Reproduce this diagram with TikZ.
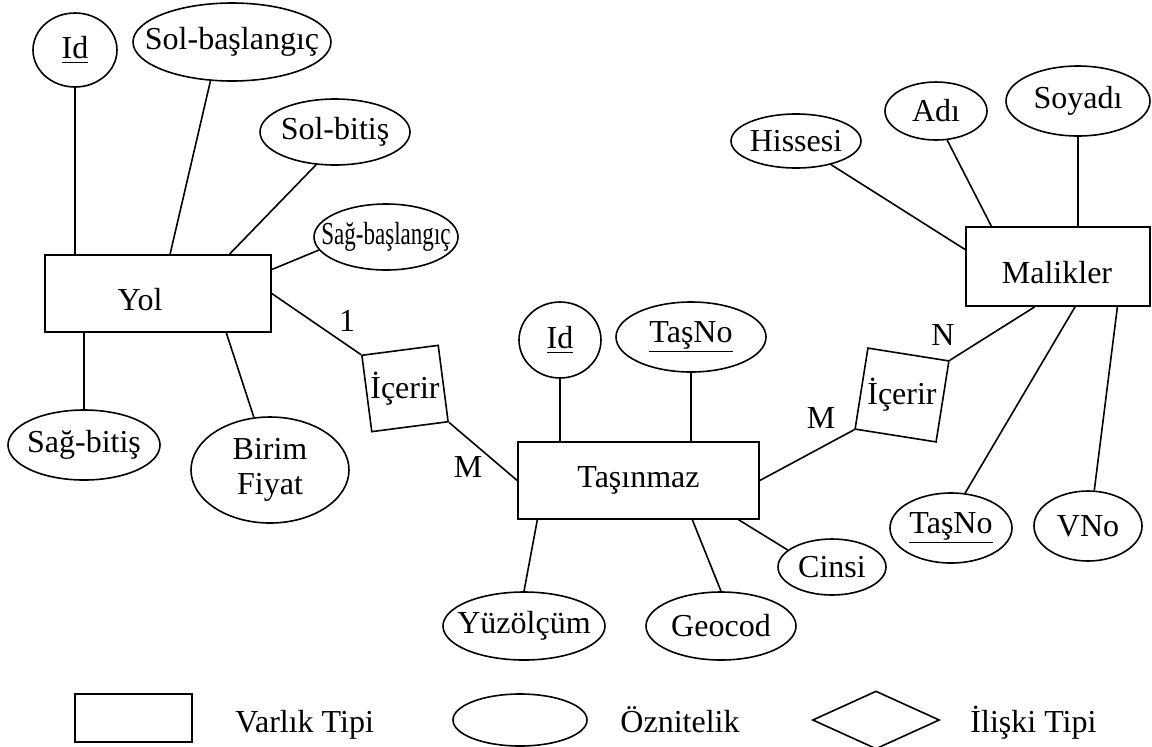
\documentclass[tikz,border=0pt]{standalone}
\usepackage{fontspec}
\usepackage{graphicx}
\setmainfont{Liberation Serif}
\usetikzlibrary{shapes.geometric,calc}

\begin{document}
\begin{tikzpicture}[x=.5pt,y=-.5pt,font=\fontsize{16}{17.5}\selectfont,line width=.8pt,
 ent/.style={draw,rectangle,inner sep=0pt},
 att/.style={draw,ellipse,inner xsep=-150pt,inner ysep=0pt,align=center},
 rel/.style={draw,rectangle,inner sep=0pt,minimum size=#1}]
\useasboundingbox (0,0) rectangle (1152,746);
\node[ent,minimum width=113pt,minimum height=38.5pt] (yol) at (158,293.5) {};
\node (yolt) at (140,300) {Yol};
\node[ent,minimum width=120.5pt,minimum height=38.5pt] (tas) at (638.5,480.5) {Taşınmaz};
\node[ent,minimum width=92pt,minimum height=39.5pt] (mal) at (1058,266.5) {};
\node (malt) at (1057,273) {Malikler};
\node[rel=38.5pt,rotate=7.4] (rel1) at (405,388.5) {};
\node (rel1t) at (rel1) {İçerir};
\node[rel=41pt,rotate=-9] (rel2) at (902,395) {};
\node (rel2t) at (rel2) {İçerir};
\node[att,minimum width=42pt,minimum height=37pt] (idy) at (75,50) {\underline{Id}};
\node[att,minimum width=99pt,minimum height=39pt] (solbas) at (232,42) {Sol-başlangıç};
\node[att,minimum width=75pt,minimum height=33pt] (solbit) at (335,132) {Sol-bitiş};
\node[att,minimum width=72pt,minimum height=33pt] (sagbas) at (386,237) {\scalebox{.72}[1]{Sağ-başlangıç}};
\node[att,minimum width=76pt,minimum height=35pt] (sagbit) at (84,445) {Sağ-bitiş};
\node[att,minimum width=79pt,minimum height=53pt] (birim) at (270,470) {Birim\\Fiyat};
\node[att,minimum width=41pt,minimum height=38pt] (idt) at (560,340) {\underline{Id}};
\node[att,minimum width=75pt,minimum height=35pt] (tasno) at (691,337) {\underline{TaşNo}};
\node[att,minimum width=81pt,minimum height=34pt] (yuz) at (524,626) {Yüzölçüm};
\node[att,minimum width=75pt,minimum height=34pt] (geo) at (721,626) {Geocod};
\node[att,minimum width=54pt,minimum height=28pt] (cinsi) at (832,567) {Cinsi};
\node[att,minimum width=65pt,minimum height=27pt] (his) at (796,141) {Hissesi};
\node[att,minimum width=51pt,minimum height=29pt] (adi) at (936,111) {Adı};
\node[att,minimum width=72pt,minimum height=35pt] (soy) at (1078,101) {Soyadı};
\node[att,minimum width=61pt,minimum height=35pt] (tasno2) at (951,528) {\underline{TaşNo}};
\node[att,minimum width=54pt,minimum height=35pt] (vno) at (1088,526) {VNo};
\draw (idy) -- (idy |- yol.north);
\draw (solbas.241) -- ($(yol.north west)!.553!(yol.north east)$);
\draw (solbit.240) -- ($(yol.north west)!.814!(yol.north east)$);
\draw (sagbas.191) -- ($(yol.north east)!.195!(yol.south east)$);
\draw (sagbit) -- (sagbit |- yol.south);
\draw (birim.107) -- ($(yol.south west)!.80!(yol.south east)$);
\draw (yol.east) -- (rel1.north west);
\draw (rel1.south east) -- (tas.west);
\draw (tas.east) -- (rel2.south west);
\draw (rel2.north east) -- ($(mal.south west)!.375!(mal.south east)$);
\node (c1) at (347,321) {1};
\node (c2) at (468,467) {M};
\node (c3) at (821,418) {M};
\node (c4) at (943,335) {N};
\draw (idt) -- (idt |- tas.north);
\draw (tasno) -- (tasno |- tas.north);
\draw (yuz.north) -- ($(tas.south west)!.083!(tas.south east)$);
\draw (geo.north) -- ($(tas.south west)!.722!(tas.south east)$);
\draw (cinsi.159) -- ($(tas.south west)!.913!(tas.south east)$);
\draw (his.326) -- ($(mal.north west)!.29!(mal.south west)$);
\draw (adi.291) -- ($(mal.north west)!.141!(mal.north east)$);
\draw (soy) -- (soy |- mal.north);
\draw (tasno2.68) -- ($(mal.south west)!.592!(mal.south east)$);
\draw (vno.80) -- ($(mal.south west)!.82!(mal.south east)$);
\node[ent,minimum width=58.5pt,minimum height=24pt] (lent) at (133.5,718) {};
\node[anchor=base west] (lentt) at (228,732) {Varlık Tipi};
\node[att,minimum width=67pt,minimum height=26pt] (latt) at (520,720) {};
\node[anchor=base west] (lattt) at (613,732) {Öznitelik};
\node[draw,diamond,inner sep=0pt,minimum width=63.5pt,minimum height=29pt] (lrel) at (876,720) {};
\node[anchor=base west] (lrelt) at (963,732) {İlişki Tipi};
\end{tikzpicture}
\end{document}
